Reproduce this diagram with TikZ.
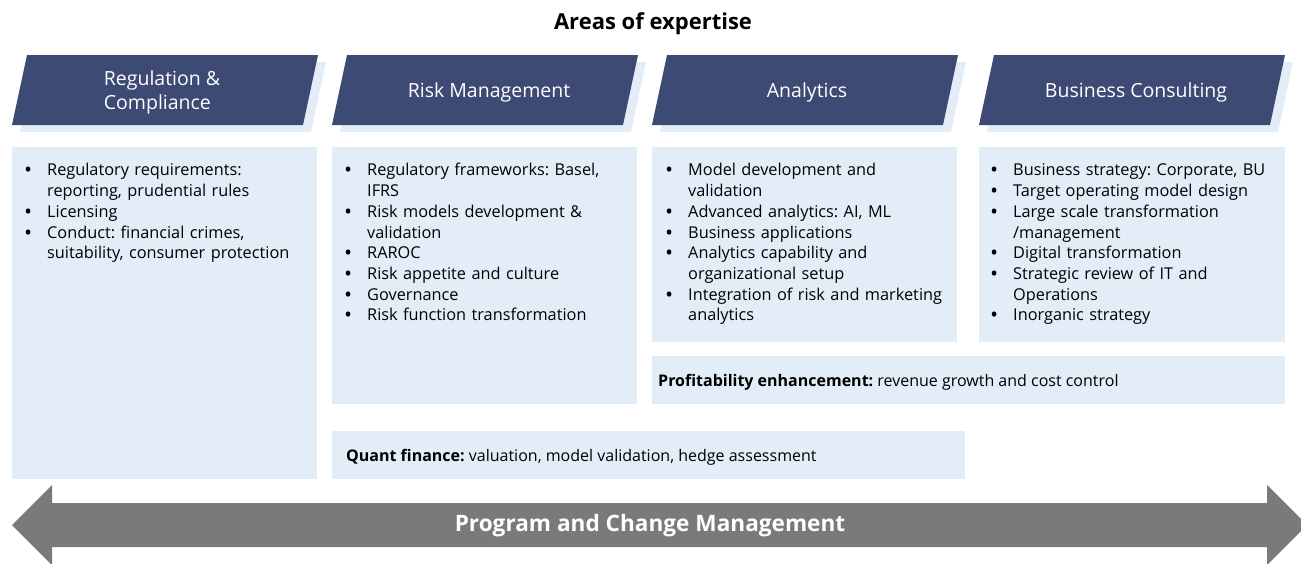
\documentclass[tikz,border=0pt]{standalone}
\usepackage{fontspec}
\setmainfont{Open Sans}
\usetikzlibrary{positioning}
\frenchspacing

\definecolor{navy}{HTML}{3D4A74}
\definecolor{paleblue}{HTML}{E3EDF8}
\definecolor{arrowgrey}{HTML}{7A7A7A}

% one bullet item, wrapped lines hang under the text
\newcommand{\itm}{\par\noindent\hangindent=22pt\hangafter=1\makebox[22pt][l]{\textbf{\textbullet}}}

\begin{document}
\begin{tikzpicture}[x=1pt, y=-1pt,
  panel/.style={fill=paleblue, anchor=north west, inner sep=0pt},
  bullets/.style={anchor=north west, inner sep=0pt, text width=#1,
    font=\fontsize{16.3}{20.7}\selectfont},
  headtext/.style={text=white, align=left, font=\fontsize{19.5}{24}\selectfont},
  oneline/.style={anchor=west, inner sep=0pt, font=\fontsize{16}{20}\selectfont}]

\useasboundingbox (0,0) rectangle (1301,563);

\node [font=\bfseries\fontsize{22}{26}\selectfont] (title) at (653,24) {Areas of expertise};

% column headers with their shadow
\foreach \x/\cx/\t [count=\i] in {12/162/{Regulation \&\\Compliance}, 332/489/Risk Management, 652/807/Analytics, 979/1136/Business Consulting} {
  \fill [paleblue] (\x+8,132) -- ++(15,-70) -- ++(291,0) -- ++(-15,70) -- cycle;
  \fill [navy] (\x,125) -- ++(15,-70) -- ++(291,0) -- ++(-15,70) -- cycle;
  \node [headtext] (head\i) at (\cx,92) {\t};
}

% panels
\node [panel, minimum width=305, minimum height=332] (regbox) at (12,147) {};
\node [panel, minimum width=305, minimum height=257] (riskbox) at (332,147) {};
\node [panel, minimum width=305, minimum height=195] (anabox) at (652,147) {};
\node [panel, minimum width=306, minimum height=195] (busbox) at (979,147) {};
\node [panel, minimum width=633, minimum height=48] (profbox) at (652,356) {};
\node [panel, minimum width=633, minimum height=48] (quantbox) at (332,431) {};

\node [bullets=290] (reglist) at (25,155) {%
  \itm Regulatory requirements:\newline reporting, prudential rules
  \itm Licensing
  \itm Conduct: financial crimes,\newline suitability, consumer protection\par};

\node [bullets=290] (risklist) at (345,155) {%
  \itm Regulatory frameworks: Basel,\newline IFRS
  \itm Risk models development \&\newline validation
  \itm RAROC
  \itm Risk appetite and culture
  \itm Governance
  \itm Risk function transformation\par};

\node [bullets=290] (analist) at (666,155) {%
  \itm Model development and\newline validation
  \itm Advanced analytics: AI, ML
  \itm Business applications
  \itm Analytics capability and\newline organizational setup
  \itm Integration of risk and marketing\newline analytics\par};

\node [bullets=298] (buslist) at (991,155) {%
  \itm Business strategy: Corporate, BU
  \itm Target operating model design
  \itm Large scale transformation\newline /management
  \itm Digital transformation
  \itm Strategic review of IT and\newline Operations
  \itm Inorganic strategy\par};

\node [oneline] (proftext) at (658,382) {\textbf{Profitability enhancement:} revenue growth and cost control};
\node [oneline] (quanttext) at (346,457) {\textbf{Quant finance:} valuation, model validation, hedge assessment};

% program arrow across the bottom
\fill [arrowgrey] (12,525) -- (52,485) -- (52,503) -- (1267,503) -- (1267,485)
  -- (1307,525) -- (1267,565) -- (1267,547) -- (52,547) -- (52,565) -- cycle;
\node [text=white, font=\bfseries\fontsize{22.6}{27}\selectfont] (progtext) at (650,526) {Program and Change Management};

\end{tikzpicture}
\end{document}
